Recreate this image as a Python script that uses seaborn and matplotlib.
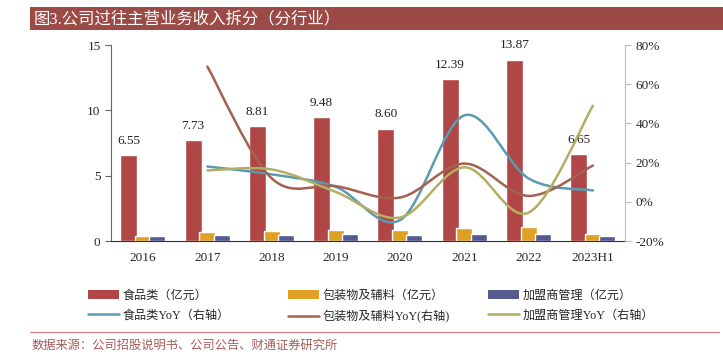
import numpy as np
import pandas as pd
import matplotlib
matplotlib.use('Agg')
import matplotlib.pyplot as plt
import seaborn as sns
from matplotlib.path import Path
from matplotlib.patches import PathPatch, Rectangle, Patch
from matplotlib.lines import Line2D

years = ['2016', '2017', '2018', '2019', '2020', '2021', '2022', '2023H1']
food = [6.55, 7.73, 8.81, 9.48, 8.60, 12.39, 13.87, 6.65]
pack = [0.42, 0.70, 0.78, 0.84, 0.86, 1.02, 1.05, 0.55]
fran = [0.37, 0.43, 0.49, 0.51, 0.47, 0.55, 0.53, 0.36]
# YoY (%), from 2017 on
food_yoy = [18.0, 14.0, 7.6, -9.3, 44.1, 11.9, 5.8]
pack_yoy = [69.0, 12.0, 8.0, 2.2, 19.5, 3.0, 18.5]
fran_yoy = [16.0, 16.5, 5.0, -8.0, 17.6, -5.5, 49.0]

bar_names = ['食品类（亿元）', '包装物及辅料（亿元）', '加盟商管理（亿元）']
line_names = ['食品类YoY（右轴）', '包装物及辅料YoY(右轴)', '加盟商管理YoY（右轴）']
bar_colors = ['#B14646', '#DFA023', '#555A93']
line_colors = ['#5B9AB3', '#A3614F', '#B2AE63']

df = pd.DataFrame({
    'year': years * 3,
    'value': food + pack + fran,
    'kind': [bar_names[0]] * 8 + [bar_names[1]] * 8 + [bar_names[2]] * 8,
})

sns.set_style('white')
plt.rcParams['font.family'] = ['Liberation Serif', 'Noto Sans CJK SC']

fig = plt.figure(figsize=(7.23, 3.58), dpi=100)
ax = fig.add_axes([0.1535, 0.3268, 0.711, 0.5475])

sns.barplot(data=df, x='year', y='value', hue='kind', palette=bar_colors,
            width=0.666, ax=ax, legend=False, saturation=1)
# widen the bars a little so neighbours touch, as in the source chart
for k, cont in enumerate(ax.containers):
    new_w = 0.265 if k == 0 else 0.25
    for p in cont:
        cx = p.get_x() + p.get_width() / 2
        p.set_width(new_w)
        p.set_x(cx - new_w / 2)
ax.bar_label(ax.containers[0], labels=[f'{v:.2f}' for v in food],
             padding=6, fontsize=9.5, color='#222222')

ax.set_ylim(0, 15)
ax.set_yticks([0, 5, 10, 15])
ax.set_xlim(-0.5, 7.5)
ax.set_xlabel('')
ax.set_ylabel('')
ax.set_xticks(range(8))
ax.set_xticklabels(years)
ax.set_xticks(np.arange(-0.5, 8, 1), minor=True)
ax.tick_params(axis='x', which='major', length=0, pad=8, labelsize=9.5)
ax.tick_params(axis='x', which='minor', length=4, direction='out', color='#333333')
ax.tick_params(axis='y', length=4, direction='out', color='#666666', labelsize=9.5)
for s in ['top', 'right']:
    ax.spines[s].set_visible(False)
ax.spines['left'].set_color('#666666')
ax.spines['bottom'].set_color('#333333')

ax2 = ax.twinx()
ax2.set_ylim(-20, 80)
ax2.set_yticks([-20, 0, 20, 40, 60, 80])
ax2.set_yticklabels([f'{v}%' for v in [-20, 0, 20, 40, 60, 80]])
ax2.tick_params(axis='y', length=4, direction='out', color='#BBBBBB', labelsize=9.5)
for s in ['top', 'left', 'bottom']:
    ax2.spines[s].set_visible(False)
ax2.spines['right'].set_color('#BBBBBB')
ax2.grid(False)


def smooth_path(xs, ys):
    # Excel-like smoothed line: cubic Bezier through the points
    pts = np.column_stack([xs, ys]).astype(float)
    n = len(pts)
    verts = [pts[0]]
    codes = [Path.MOVETO]
    for i in range(n - 1):
        p0 = pts[i - 1] if i > 0 else pts[i]
        p1 = pts[i]
        p2 = pts[i + 1]
        p3 = pts[i + 2] if i + 2 < n else pts[i + 1]
        c1 = p1 + (p2 - p0) / 6
        c2 = p2 - (p3 - p1) / 6
        verts += [c1, c2, p2]
        codes += [Path.CURVE4] * 3
    return Path(verts, codes)


xs = np.arange(1, 8)
for vals, col in zip([food_yoy, pack_yoy, fran_yoy], line_colors):
    patch = PathPatch(smooth_path(xs, vals), facecolor='none', edgecolor=col,
                      lw=1.8, transform=ax2.transData, capstyle='round')
    ax2.add_patch(patch)

# legend: one column per series pair, placed like the source
col_x = [88 / 723, 288 / 723, 488 / 723]
for i in range(3):
    hs = [Patch(facecolor=bar_colors[i], edgecolor='none', label=bar_names[i]),
          Line2D([], [], color=line_colors[i], lw=1.8, label=line_names[i])]
    fig.legend(handles=hs, ncol=1, loc='upper left', bbox_to_anchor=(col_x[i], 0.19),
               frameon=False, fontsize=8.7, handlelength=2.6, handleheight=0.8,
               handletextpad=0.3, labelspacing=0.65, borderpad=0, borderaxespad=0)

# title bar
fig.patches.append(Rectangle((0.0415, 0.916), 0.9585, 0.064, transform=fig.transFigure,
                             facecolor='#9C4A46', edgecolor='none', zorder=0))
fig.text(0.046, 0.947, '图3.公司过往主营业务收入拆分（分行业）', color='white',
         fontsize=11.8, va='center', ha='left')

# footer
fig.add_artist(Line2D([0.0415, 0.995], [0.073, 0.073], transform=fig.transFigure,
                      color='#C98080', lw=0.9))
fig.text(0.043, 0.033, '数据来源：公司招股说明书、公司公告、财通证券研究所',
         color='#A85A5A', fontsize=8.8, va='center', ha='left')

fig.savefig('out.png', dpi=100)
